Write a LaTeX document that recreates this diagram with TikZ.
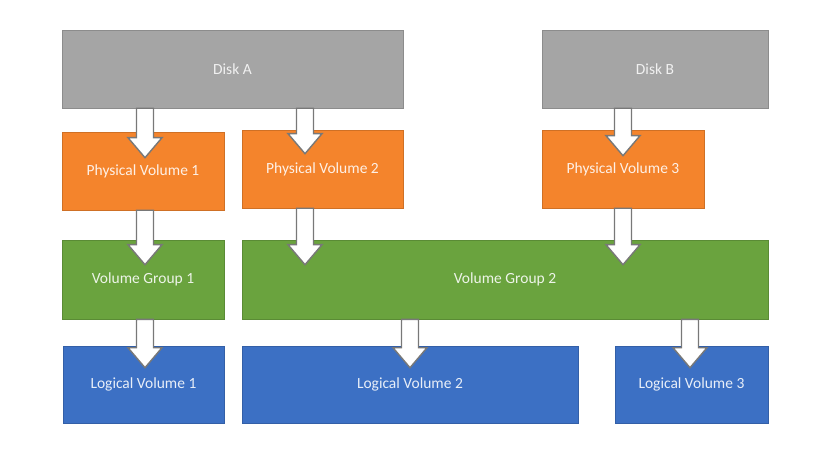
\documentclass[tikz,border=0pt]{standalone}
\usepackage{fontspec}
\setmainfont{Carlito}
\usetikzlibrary{
    positioning,
    calc
}
\definecolor{diskgray}{RGB}{165, 165, 165}
\definecolor{pvorange}{RGB}{244, 132, 44}
\definecolor{vggreen}{RGB}{106, 163, 62}
\definecolor{lvblue}{RGB}{60, 112, 196}
\definecolor{arrowedge}{RGB}{120, 120, 120}
\newcommand{\blockarrow}[2]{%
    \draw[blockarrow] ($(#1)+(-8.5,0)$) -- ($(#2)+(-8.5,20)$) -- ($(#2)+(-17,20)$) -- (#2)
        -- ($(#2)+(17,20)$) -- ($(#2)+(8.5,20)$) -- ($(#1)+(8.5,0)$) -- cycle;}

\begin{document}
\begin{tikzpicture}[
        x=1pt, y=1pt,
        box/.style={draw, line width=0.6pt, inner sep=0pt, minimum height=78pt, font=\fontsize{15.5}{18}\selectfont},
        disk/.style={box, fill=diskgray, draw=diskgray!85!black, text=white!85!diskgray},
        pv/.style={box, fill=pvorange, draw=pvorange!85!black, text=white!88!pvorange},
        vg/.style={box, fill=vggreen, draw=vggreen!85!black, text=white!88!vggreen},
        lv/.style={box, fill=lvblue, draw=lvblue!85!black, text=white!88!lvblue},
        blockarrow/.style={draw=arrowedge, fill=white, line width=1.4pt, line join=miter}
    ]
        \useasboundingbox[fill=white] (0,0) rectangle (823,448);

        % Disks
        \node[disk, minimum width=341pt] (diskA) at (232.5, 379) {Disk A};
        \node[disk, minimum width=226pt] (diskB) at (655, 379) {Disk B};

        % Physical volumes
        \node[pv, minimum width=162pt] (pv1) at (143, 277) {Physical Volume 1};
        \node[pv, minimum width=161pt] (pv2) at (322.5, 279) {Physical Volume 2};
        \node[pv, minimum width=162pt] (pv3) at (623, 279) {Physical Volume 3};

        % Volume groups
        \node[vg, minimum width=162pt, minimum height=79pt] (vg1) at (143, 168.5) {Volume Group 1};
        \node[vg, minimum width=526pt, minimum height=79pt] (vg2) at (505, 168.5) {Volume Group 2};

        % Logical volumes
        \node[lv, minimum width=161pt, minimum height=77pt] (lv1) at (143.5, 63.5) {Logical Volume 1};
        \node[lv, minimum width=336pt, minimum height=77pt] (lv2) at (410, 63.5) {Logical Volume 2};
        \node[lv, minimum width=153pt, minimum height=77pt] (lv3) at (691.5, 63.5) {Logical Volume 3};

        % Arrow ends
        \coordinate (a1) at (diskA.south -| 145,0);
        \coordinate (t1) at ($(pv1.north -| 145,0)+(0,-26)$);
        \coordinate (a2) at (diskA.south -| 305,0);
        \coordinate (t2) at ($(pv2.north -| 305,0)+(0,-24)$);
        \coordinate (a3) at (diskB.south -| pv3.north);
        \coordinate (t3) at ($(pv3.north)+(0,-26)$);
        \coordinate (a4) at (pv1.south -| 145,0);
        \coordinate (t4) at ($(vg1.north -| 145,0)+(0,-25)$);
        \coordinate (a5) at (pv2.south -| 305,0);
        \coordinate (t5) at ($(vg2.north -| 305,0)+(0,-25)$);
        \coordinate (a6) at (pv3.south);
        \coordinate (t6) at ($(vg2.north -| pv3.south)+(0,-25)$);
        \coordinate (a7) at (vg1.south -| 145,0);
        \coordinate (t7) at ($(lv1.north -| 145,0)+(0,-22)$);
        \coordinate (a8) at (vg2.south -| lv2.north);
        \coordinate (t8) at ($(lv2.north)+(0,-22)$);
        \coordinate (a9) at (vg2.south -| 690,0);
        \coordinate (t9) at ($(lv3.north -| 690,0)+(0,-22)$);

        % Arrows
        \foreach \i in {1,...,9} {
            \blockarrow{a\i}{t\i}
        }
    \end{tikzpicture}
\end{document}
